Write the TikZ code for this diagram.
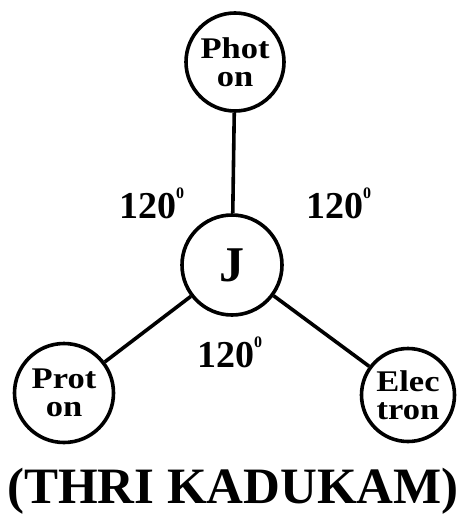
\documentclass[tikz,border=0pt]{standalone}
\usepackage{fontspec}
\setmainfont{Liberation Serif}
\newfontfamily\widefont{Liberation Serif}[FakeStretch=1.15]
\newcommand{\upzero}{\raisebox{20pt}{\fontsize{16}{16}\selectfont 0}}
\begin{document}
\begin{tikzpicture}[x=1pt,y=-1pt,line cap=butt,line join=miter]
\tikzset{ball/.style={draw,circle,line width=3.6pt,minimum size=98pt,inner sep=0pt,
  align=center,font=\widefont\bfseries\fontsize{30}{28}\selectfont},
angle/.style={anchor=base west,inner sep=0pt,font=\bfseries\fontsize{38}{38}\selectfont}
}
\useasboundingbox (0,0) rectangle (466,514);
\node[ball] (photon) at (235,62) {Phot\\on};
\node[ball,minimum size=100pt,font=\bfseries\fontsize{50}{50}\selectfont] (j) at (232,265) {J};
\node[ball,minimum size=99pt] (proton) at (64,393) {Prot\\on};
\node[ball,minimum size=93pt] (electron) at (408,395) {Elec\\tron};
\draw[line width=3.6pt] (photon)--(j) (j)--(proton) (j)--(electron);
\node[angle] (leftangle) at (119,218) {120\upzero};
\node[angle] (rightangle) at (306,218) {120\upzero};
\node[angle] (lowangle) at (197,367) {120\upzero};
\node[anchor=base,font=\bfseries\fontsize{51}{51}\selectfont] (title) at (233,503) {(THRI KADUKAM)};
\end{tikzpicture}
\end{document}
